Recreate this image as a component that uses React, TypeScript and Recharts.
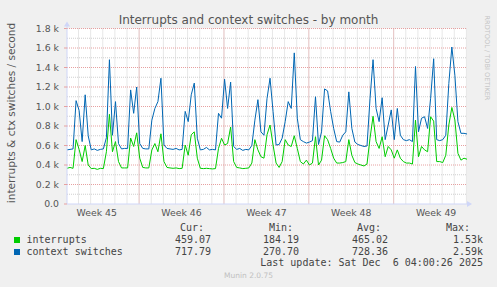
import { LineChart, Line, XAxis, YAxis, CartesianGrid, ReferenceDot } from "recharts";

// one sample every 6 hours (33 days)
const interrupts = [
  366, 375, 366, 660, 560, 435, 600, 400, 363, 366, 355, 366, 363, 536, 920, 536, 640, 435, 370, 370,
  370, 677, 590, 730, 470, 375, 370, 370, 554, 620, 536, 720, 435, 375, 370, 366, 370, 363, 366, 605,
  500, 710, 740, 470, 366, 363, 366, 363, 360, 363, 570, 674, 605, 620, 790, 435, 375, 370, 363, 366,
  370, 420, 660, 555, 485, 470, 710, 810, 605, 420, 375, 435, 660, 605, 590, 700, 570, 435, 410, 450,
  400, 420, 690, 400, 450, 700, 660, 570, 470, 420, 420, 425, 435, 660, 500, 425, 410, 400, 390, 410,
  674, 900, 640, 570, 690, 485, 590, 555, 470, 555, 470, 435, 420, 420, 410, 860, 485, 590, 555, 536,
  895, 850, 435, 435, 425, 500, 810, 990, 862, 520, 450, 470, 459,
];
const contextSwitches = [
  555, 560, 565, 1060, 960, 640, 1120, 700, 555, 565, 550, 560, 565, 680, 1480, 705, 1050, 620, 565, 570,
  570, 1170, 930, 1200, 620, 570, 565, 565, 860, 980, 1050, 1290, 605, 570, 565, 560, 570, 555, 560, 950,
  845, 1120, 1240, 675, 555, 560, 580, 555, 560, 555, 930, 880, 1280, 980, 1250, 590, 560, 570, 550, 560,
  555, 600, 860, 1070, 740, 705, 1080, 1290, 950, 605, 610, 675, 845, 1050, 980, 1550, 880, 660, 640, 625,
  635, 650, 1100, 610, 740, 1180, 1160, 950, 775, 640, 635, 705, 740, 1150, 775, 635, 610, 600, 590, 595,
  1080, 1480, 980, 845, 1090, 660, 810, 965, 660, 980, 705, 660, 650, 660, 640, 1410, 740, 880, 895, 775,
  1084, 1490, 660, 650, 660, 705, 1235, 1610, 1320, 845, 725, 725, 718,
];

const sampleStep = 0.25; // days
const xDomain = [0, 33];
const weekStarts = [5.95, 12.95, 19.95, 26.95];
const weekMid = [2.45, 9.45, 16.45, 23.45, 30.45];
const weekLabels = ["Week 45", "Week 46", "Week 47", "Week 48", "Week 49"];
const dayLines = Array.from({ length: 33 }, (_, d) => d + 0.95);
const yTicks = [0, 200, 400, 600, 800, 1000, 1200, 1400, 1600, 1800];
const yMinor = [100, 300, 500, 700, 900, 1100, 1300, 1500, 1700];

const seriesNames = ["interrupts", "context switches"];
const seriesColors = ["#00cc00", "#0066b3"];
const curValues = ["459.07", "717.79"];
const minValues = ["184.19", "270.70"];
const avgValues = ["465.02", "728.36"];
const maxValues = ["1.53k", "2.59k"];

const rows = interrupts.map((v, i) => ({
  t: i * sampleStep,
  interrupts: v,
  ctx: contextSwitches[i],
}));

const axisColor = "#cfd6f8";
const tickStyle = { fill: "#555", fontSize: 9.33, fontFamily: "DejaVu Sans" };
const mono = "DejaVu Sans Mono";

const XArrow = (p: any) => (
  <path d={`M${p.cx} ${p.cy - 3} L${p.cx + 5} ${p.cy} L${p.cx} ${p.cy + 3} Z`} fill={axisColor} />
);
const YArrow = (p: any) => (
  <g>
    <line x1={p.cx} y1={p.cy} x2={p.cx} y2={p.cy - 3} stroke={axisColor} />
    <path d={`M${p.cx - 3} ${p.cy - 2} L${p.cx} ${p.cy - 7} L${p.cx + 3} ${p.cy - 2} Z`} fill={axisColor} />
  </g>
);

function Txt({ x, y, children, align = "left", size = 10, color = "#444", font = mono }: any) {
  const style: any = {
    position: "absolute",
    top: y - 7,
    lineHeight: "14px",
    fontSize: size,
    fontFamily: font,
    color,
    whiteSpace: "pre",
  };
  if (align === "right") style.right = 497 - x;
  else style.left = x;
  return <div style={style}>{children}</div>;
}

export default function App() {
  const cols = [
    { end: 211, head: 204, label: "Cur:", vals: curValues },
    { end: 299, head: 293, label: "Min:", vals: minValues },
    { end: 388, head: 381, label: "Avg:", vals: avgValues },
    { end: 483, head: 470, label: "Max:", vals: maxValues },
  ];
  const rowY = [240, 251.7];

  return (
    <div
      style={{
        position: "absolute",
        left: 0,
        top: 0,
        width: 497,
        height: 287,
        background: "#f0f0f0",
        overflow: "hidden",
      }}
    >
      <div
        style={{
          position: "absolute",
          left: 0,
          top: 12.5,
          width: 497,
          textAlign: "center",
          lineHeight: "14px",
          fontSize: 12,
          fontFamily: "DejaVu Sans",
          color: "#555",
        }}
      >
        Interrupts and context switches - by month
      </div>
      <div
        style={{
          position: "absolute",
          left: 10.5,
          top: 113,
          transform: "translate(-50%, -50%) rotate(-90deg)",
          whiteSpace: "nowrap",
          fontSize: 10.6,
          lineHeight: "12px",
          fontFamily: "DejaVu Sans",
          color: "#555",
        }}
      >
        interrupts &amp; ctx switches / second
      </div>
      <div
        style={{
          position: "absolute",
          left: 487,
          top: 58,
          transform: "translate(-50%, -50%) rotate(90deg)",
          whiteSpace: "nowrap",
          fontSize: 6.6,
          lineHeight: "8px",
          fontFamily: "DejaVu Sans",
          color: "#c4c4c4",
        }}
      >
        RRDTOOL / TOBI OETIKER
      </div>

      <LineChart width={497} height={287} data={rows} margin={{ top: 28.5, right: 30, bottom: 53, left: 0 }}>
        <CartesianGrid
          fill="#ffffff"
          stroke="#cfcfcf"
          strokeDasharray="1 1"
          horizontalValues={yMinor}
          verticalValues={dayLines}
        />
        <CartesianGrid
          stroke="#e6a0a0"
          strokeDasharray="1 1"
          horizontalValues={yTicks.slice(1)}
          verticalValues={weekStarts}
        />
        <XAxis
          type="number"
          dataKey="t"
          domain={xDomain}
          ticks={weekMid}
          interval={0}
          tickFormatter={(_v: number, i: number) => weekLabels[i]}
          axisLine={{ stroke: axisColor }}
          tickLine={false}
          tickSize={3}
          tickMargin={2}
          tick={tickStyle}
          height={30}
        />
        <YAxis
          type="number"
          domain={[0, 1800]}
          ticks={yTicks}
          interval={0}
          tickFormatter={(v: number) => (v === 0 ? "0.0" : `${(v / 1000).toFixed(1)} k`)}
          axisLine={{ stroke: axisColor }}
          tickLine={{ stroke: "#e6a0a0" }}
          tickSize={3}
          tickMargin={5}
          tick={tickStyle}
          width={67}
        />
        <Line
          type="linear"
          dataKey="interrupts"
          stroke={seriesColors[0]}
          strokeWidth={1}
          dot={false}
          isAnimationActive={false}
        />
        <Line
          type="linear"
          dataKey="ctx"
          stroke={seriesColors[1]}
          strokeWidth={1}
          dot={false}
          isAnimationActive={false}
        />
        <ReferenceDot x={33} y={0} shape={XArrow} ifOverflow="visible" />
        <ReferenceDot x={0} y={1800} shape={YArrow} ifOverflow="visible" />
      </LineChart>

      {cols.map((c) => (
        <Txt key={c.label} x={c.head} y={228} align="right">
          {c.label}
        </Txt>
      ))}
      {seriesNames.map((name, r) => (
        <div key={name}>
          <div
            style={{
              position: "absolute",
              left: 14,
              top: rowY[r] - 3,
              width: 6,
              height: 6,
              background: seriesColors[r],
            }}
          />
          <Txt x={26.5} y={rowY[r]}>
            {name}
          </Txt>
          {cols.map((c) => (
            <Txt key={c.label} x={c.end} y={rowY[r]} align="right">
              {c.vals[r]}
            </Txt>
          ))}
        </div>
      ))}
      <Txt x={483} y={263.3} align="right">
        {"Last update: Sat Dec  6 04:00:26 2025"}
      </Txt>
      <div
        style={{
          position: "absolute",
          left: 0,
          width: 497,
          top: 272,
          textAlign: "center",
          lineHeight: "8px",
          fontSize: 7.5,
          fontFamily: "DejaVu Sans",
          color: "#c0c0c0",
        }}
      >
        Munin 2.0.75
      </div>
    </div>
  );
}
